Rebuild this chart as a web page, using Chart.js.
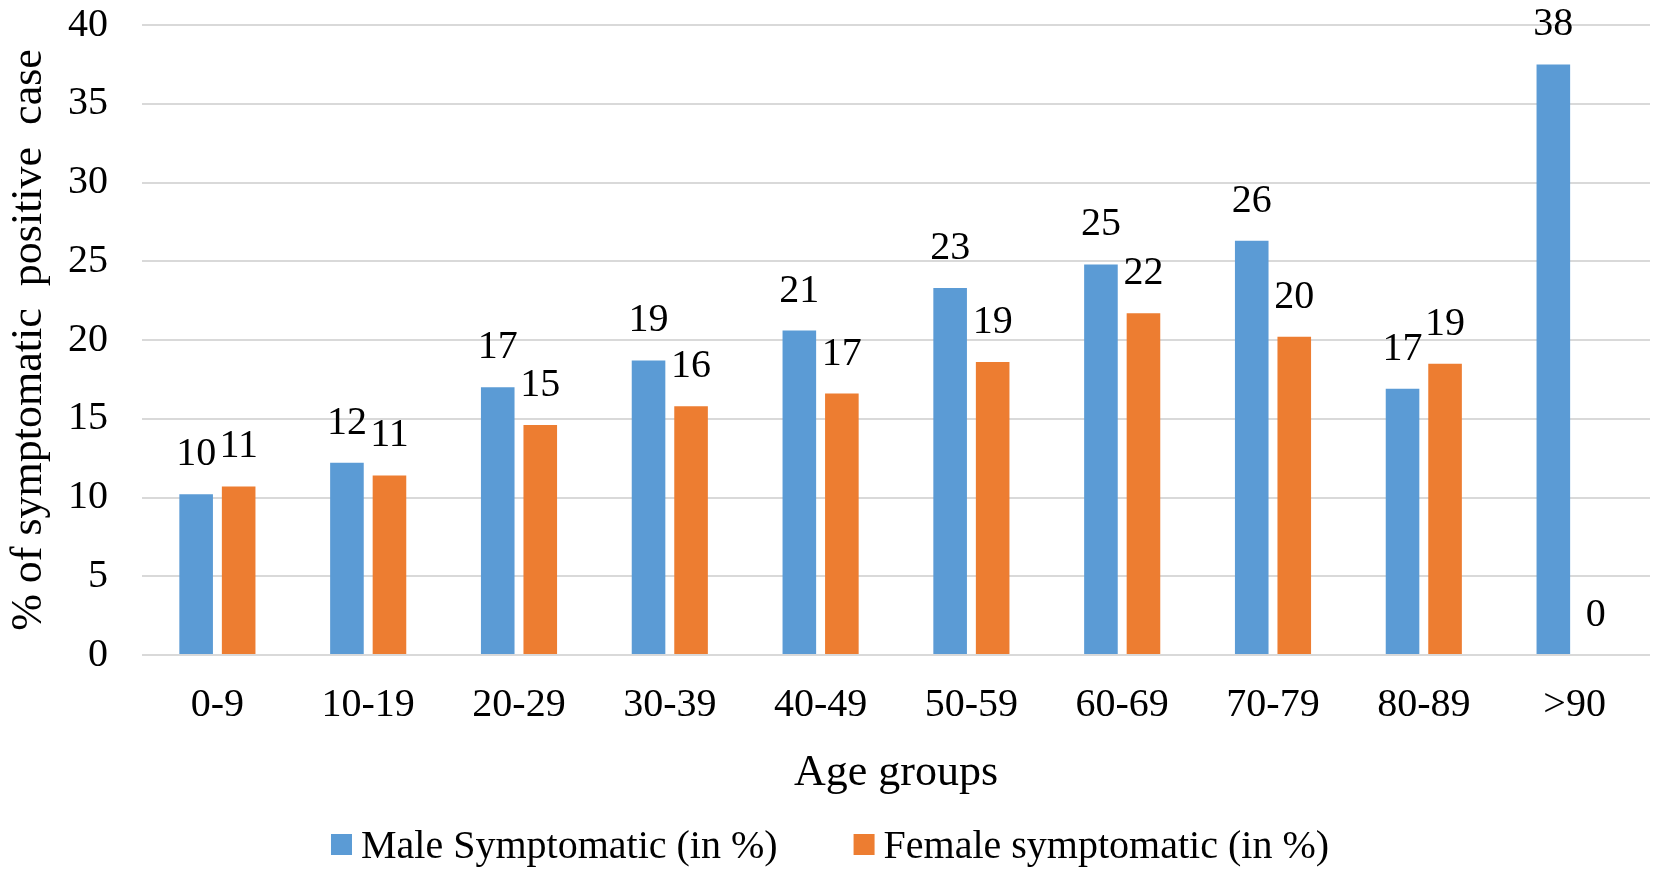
<!DOCTYPE html>
<html><head><meta charset="utf-8">
<script src="https://cdn.jsdelivr.net/npm/chart.js@4/dist/chart.umd.min.js"></script>
<style>html,body{margin:0;padding:0;background:#fff;}#wrap{width:1662px;height:874px;position:relative;}</style>
</head><body><div id="wrap"><canvas id="c"></canvas></div>
<script>
const categories = ['0-9','10-19','20-29','30-39','40-49','50-59','60-69','70-79','80-89','>90'];
const maleValues = [10.2, 12.2, 17.0, 18.7, 20.6, 23.3, 24.8, 26.3, 16.9, 37.5];
const femaleValues = [10.7, 11.4, 14.6, 15.8, 16.6, 18.6, 21.7, 20.2, 18.5, 0];
const seriesNames = ['Male Symptomatic (in %)', 'Female symptomatic (in %)'];
const seriesColors = ['#5B9BD5', '#ED7D31'];
const yMin = 0, yMax = 40, yStep = 5;
const xTitle = 'Age groups';
const yTitle = '% of symptomatic  positive  case';

const FONT = '"Liberation Serif", "Times New Roman", serif';

const dataLabelPlugin = {
  id: 'dataLabels',
  afterDatasetsDraw(chart) {
    const ctx = chart.ctx;
    ctx.save();
    ctx.font = '40px ' + FONT;
    ctx.fillStyle = '#000';
    ctx.textAlign = 'center';
    ctx.textBaseline = 'alphabetic';
    chart.data.datasets.forEach((ds, i) => {
      const meta = chart.getDatasetMeta(i);
      meta.data.forEach((el, j) => {
        ctx.fillText(String(Math.round(ds.data[j])), el.x, el.y - 29);
      });
    });
    ctx.restore();
  }
};

const legendPlugin = {
  id: 'customLegend',
  afterDraw(chart) {
    const ctx = chart.ctx;
    ctx.save();
    ctx.font = '40px ' + FONT;
    const box = 21, gapText = 9, gapItem = 76;
    const items = chart.data.datasets.map(ds => ({label: ds.label, color: ds.backgroundColor, w: ctx.measureText(ds.label).width}));
    let total = 0;
    items.forEach((it, k) => { total += box + gapText + it.w + (k ? gapItem : 0); });
    let x = 830 - total / 2;
    const baseline = 858, boxTop = 834;
    ctx.textAlign = 'left';
    ctx.textBaseline = 'alphabetic';
    items.forEach((it, k) => {
      if (k) x += gapItem;
      ctx.fillStyle = it.color;
      ctx.fillRect(x, boxTop, box, box);
      x += box + gapText;
      ctx.fillStyle = '#000';
      ctx.fillText(it.label, x, baseline);
      x += it.w;
    });
    ctx.restore();
  }
};

new Chart(document.getElementById('c'), {
  type: 'bar',
  data: {
    labels: categories,
    datasets: [
      {label: seriesNames[0], data: maleValues, backgroundColor: seriesColors[0], categoryPercentage: 0.564, barPercentage: 0.79},
      {label: seriesNames[1], data: femaleValues, backgroundColor: seriesColors[1], categoryPercentage: 0.564, barPercentage: 0.79}
    ]
  },
  options: {
    responsive: true,
    maintainAspectRatio: false,
    animation: false,
    layout: {padding: {top: 25, right: 12, bottom: 69, left: 0}},
    plugins: {legend: {display: false}, tooltip: {enabled: false}},
    scales: {
      x: {
        grid: {display: false, drawTicks: false},
        border: {display: false},
        ticks: {color: '#000', font: {family: FONT, size: 40}, padding: 26, maxRotation: 0, autoSkip: false},
        title: {display: true, text: xTitle, color: '#000', font: {family: FONT, size: 44}, padding: {top: 0, bottom: 5}},
        afterFit(s) { s.height = 150; }
      },
      y: {
        min: yMin, max: yMax,
        grid: {color: '#D9D9D9', lineWidth: 2, drawTicks: false},
        border: {display: false},
        ticks: {stepSize: yStep, color: '#000', font: {family: FONT, size: 40}, padding: 34},
        title: {display: true, text: yTitle, color: '#000', font: {family: FONT, size: 44}, padding: {top: 3, bottom: 0}},
        afterFit(s) { s.width = 142; s.paddingTop = 0; s.paddingBottom = 0; }
      }
    }
  },
  plugins: [dataLabelPlugin, legendPlugin]
});
</script></body></html>
